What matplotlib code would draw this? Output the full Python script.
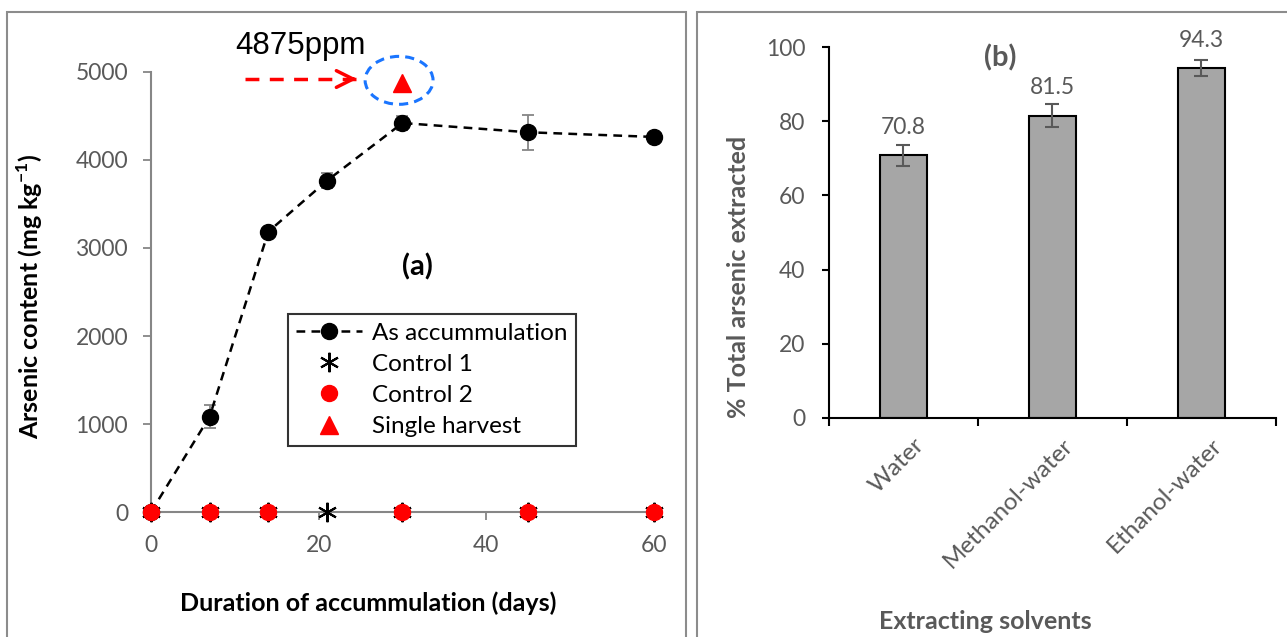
import matplotlib
matplotlib.use('Agg')
import matplotlib.pyplot as plt
import matplotlib.transforms as mtransforms
from matplotlib.patches import Rectangle, Ellipse
import numpy as np

plt.rcParams['font.family'] = ['Lato', 'DejaVu Sans']
plt.rcParams['mathtext.fontset'] = 'custom'
plt.rcParams['mathtext.rm'] = 'Lato'
plt.rcParams['mathtext.bf'] = 'Lato:bold'

# panel (a) data
days = [0, 7, 14, 21, 30, 45, 60]
as_accum = [0, 1085, 3185, 3765, 4420, 4315, 4262]
as_err = [0, 130, 35, 85, 75, 200, 0]
control1_days = [0, 7, 14, 21, 30, 45, 60]
control1 = [0, 0, 0, 0, 0, 0, 0]
control2_days = [0, 7, 14, 30, 45, 60]
control2 = [0, 0, 0, 0, 0, 0]
single_day = [30]
single_val = [4875]

# panel (b) data
solvents = ['Water', 'Methanol-water', 'Ethanol-water']
extracted = [70.8, 81.5, 94.3]
extracted_err = [2.8, 3.1, 2.2]

GRAY_TXT = '#595959'
GRAY_AX = '#868686'

fig = plt.figure(figsize=(12.87, 6.37), dpi=100)

# outer frames of both panels
fig.patches.append(Rectangle((0.0054, -0.02), 0.5276, 1.0012, transform=fig.transFigure,
                             fill=False, edgecolor='#8c8c8c', lw=1.5))
fig.patches.append(Rectangle((0.5416, -0.02), 0.47, 1.0012, transform=fig.transFigure,
                             fill=False, edgecolor='#8c8c8c', lw=1.5))

# ---------------- panel (a)
ax = fig.add_axes([0.1173, 0.1962, 0.3908, 0.6908])
ax.set_xlim(0, 60)
ax.set_ylim(0, 5000)

ax.errorbar(days, as_accum, yerr=as_err, fmt='none', ecolor=GRAY_AX, elinewidth=1.3,
            capsize=4, capthick=1.3, zorder=3)
l1, = ax.plot(days, as_accum, color='black', ls=(0, (3.5, 2.5)), lw=1.8, marker='o',
              markersize=11.5, markerfacecolor='black', clip_on=False, zorder=4,
              label='As accummulation')
l2, = ax.plot(control1_days, control1, ls='none', marker=(6, 2, 0), markersize=14,
              markeredgecolor='black', markeredgewidth=1.5, clip_on=False, zorder=5,
              label='Control 1')
l3, = ax.plot(control2_days, control2, ls='none', marker='o', markersize=11.5,
              markerfacecolor='red', markeredgecolor='red', clip_on=False, zorder=6,
              label='Control 2')
l4, = ax.plot(single_day, single_val, ls='none', marker='^', markersize=12.5,
              markerfacecolor='red', markeredgecolor='red', clip_on=False, zorder=6,
              label='Single harvest')

for s in ['top', 'right']:
    ax.spines[s].set_visible(False)
for s in ['left', 'bottom']:
    ax.spines[s].set_color(GRAY_AX)
    ax.spines[s].set_linewidth(1.5)

ax.set_xticks([0, 20, 40, 60])
ax.set_yticks([0, 1000, 2000, 3000, 4000, 5000])
ax.tick_params(axis='both', colors=GRAY_AX, labelcolor=GRAY_TXT, labelsize=16.5,
               length=5.5, width=1.3, direction='out')
ax.tick_params(axis='x', pad=11)
ax.tick_params(axis='y', pad=11)

ax.set_xlabel('Duration of accummulation (days)', fontsize=18, fontweight='bold',
              color='black')
ax.xaxis.set_label_coords(0.432, -0.18)
ax.set_ylabel('Arsenic content (mg kg$^{\\mathbf{-1}}$)', fontsize=18,
              fontweight='bold', color='black')
ax.yaxis.set_label_coords(-0.21, 0.49)

ax.text(0.53, 0.557, '(a)', transform=ax.transAxes, fontsize=21, fontweight='bold',
        ha='center', va='center')

# annotation for the single harvest point
sx, sy = single_day[0], single_val[0]
ax.add_patch(Ellipse((sx - 0.4, sy + 30), 8.1, 545, fill=False, edgecolor='#1a75ff',
                     lw=2.2, ls=(0, (3, 2)), clip_on=False, zorder=7))
ax.plot([sx - 18.8, sx - 5.6], [sy + 45, sy + 45], color='red', lw=2.5,
        ls=(0, (4, 3)), clip_on=False, zorder=7)
ax.annotate('', xy=(sx - 5.1, sy + 45), xytext=(sx - 6.5, sy + 45),
            arrowprops=dict(arrowstyle='->', color='red', lw=2.5, mutation_scale=30),
            annotation_clip=False, zorder=7)
ax.text(sx - 19.9, sy + 330, '4875ppm', fontsize=22.5, family='Liberation Sans',
        ha='left', va='baseline', color='black')

leg = ax.legend(handles=[l1, l2, l3, l4], loc='upper left', bbox_to_anchor=(0.272, 0.45),
                borderaxespad=0, fontsize=17.5, frameon=True, fancybox=False,
                handlelength=2.7, handletextpad=0.4, labelspacing=0.42, borderpad=0.35,
                edgecolor='black')
leg.get_frame().set_linewidth(1.5)

# ---------------- panel (b)
bx = fig.add_axes([0.6441, 0.3438, 0.3473, 0.5824])
x = np.arange(len(solvents))
bx.bar(x, extracted, width=0.31, color='#a6a6a6', edgecolor='black', lw=1.5, zorder=2)
bx.errorbar(x, extracted, yerr=extracted_err, fmt='none', ecolor=GRAY_TXT,
            elinewidth=1.5, capsize=5, capthick=1.5, zorder=3)
for xi, v in zip(x, extracted):
    bx.annotate('%.1f' % v, xy=(xi, v), xytext=(0, 20), textcoords='offset points',
                ha='center', va='center', fontsize=16.5, color=GRAY_TXT)

bx.set_xlim(-0.5, 2.5)
bx.set_ylim(0, 100)
bx.set_yticks([0, 20, 40, 60, 80, 100])
bx.set_xticks(x)
bx.set_xticklabels(solvents, rotation=45, ha='right', rotation_mode='anchor')
bx.set_xticks([-0.5, 0.5, 1.5, 2.5], minor=True)
bx.tick_params(axis='x', which='major', length=0, pad=12, labelsize=17.5,
               labelcolor=GRAY_TXT)
bx.tick_params(axis='x', which='minor', length=6, width=1.5, direction='out')
bx.tick_params(axis='y', length=5, width=1.5, direction='out', labelsize=16.5,
               labelcolor=GRAY_TXT, pad=12)
shift = mtransforms.ScaledTranslation(10 / 100, 0, fig.dpi_scale_trans)
for lab in bx.get_xticklabels():
    lab.set_transform(lab.get_transform() + shift)
for s in ['top', 'right']:
    bx.spines[s].set_visible(False)
for s in ['left', 'bottom']:
    bx.spines[s].set_linewidth(1.5)

bx.set_xlabel('Extracting solvents', fontsize=18, fontweight='bold', color=GRAY_TXT)
bx.xaxis.set_label_coords(0.349, -0.517)
bx.set_ylabel('% Total arsenic extracted', fontsize=18, fontweight='bold',
              color=GRAY_TXT)
bx.yaxis.set_label_coords(-0.177, 0.38)
bx.text(0.383, 0.97, '(b)', transform=bx.transAxes, fontsize=21, fontweight='bold',
        ha='center', va='center', color=GRAY_TXT)

plt.savefig('out.png', dpi=100)
